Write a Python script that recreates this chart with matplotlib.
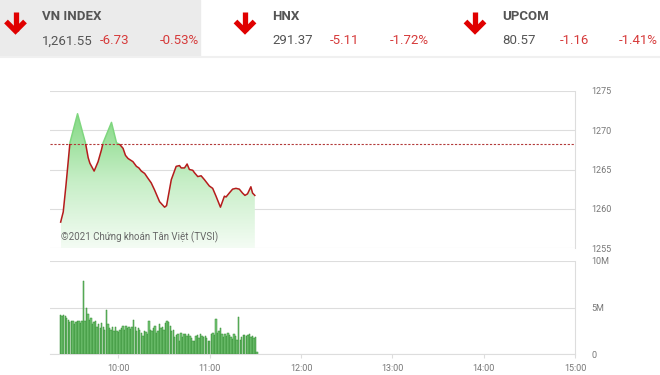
import numpy as np
import matplotlib
matplotlib.use("Agg")
import matplotlib.pyplot as plt
from matplotlib import font_manager
from matplotlib.colors import LinearSegmentedColormap
from matplotlib.patches import Polygon, Rectangle

avail = {f.name for f in font_manager.fontManager.ttflist}
FONT = next(f for f in ["Liberation Sans Narrow", "Roboto", "DejaVu Sans"] if f in avail)
plt.rcParams['font.family'] = [FONT, 'DejaVu Sans']

# header boxes
idx_names = ["VN INDEX", "HNX", "UPCOM"]
idx_values = ["1,261.55", "291.37", "80.57"]
idx_changes = ["-6.73", "-5.11", "-1.16"]
idx_pcts = ["-0.53%", "-1.72%", "-1.41%"]

# intraday index, minutes after 09:00
price_min = [22.0, 23.7, 25.5, 28.1, 33.1, 38.4, 40.1, 41.2, 44.0, 46.6, 48.8, 49.9,
             55.4, 58.7, 60.8, 63.0, 64.6, 66.3, 69.5, 71.8, 73.4, 75.0, 77.2, 79.3,
             81.5, 83.7, 87.0, 90.3, 91.6, 94.7, 97.9, 100.1, 101.2, 103.4, 105.1, 106.6,
             108.8, 109.9, 112.1, 114.3, 116.5, 119.7, 121.9, 124.1, 127.0, 129.6, 130.7,
             132.8, 135.0, 137.2, 139.4, 141.5, 143.1, 144.8, 147.0, 148.1, 149.6]
price_val = [1258.3, 1259.6, 1263.0, 1268.4, 1272.1, 1268.3, 1266.5, 1265.8, 1264.8, 1266.0,
             1267.5, 1268.4, 1271.0, 1268.4, 1268.2, 1267.7, 1266.8, 1266.4, 1266.0, 1265.4,
             1265.2, 1264.8, 1264.5, 1263.9, 1263.3, 1262.4, 1260.9, 1260.2, 1260.4, 1263.7,
             1265.4, 1265.5, 1265.2, 1265.2, 1265.7, 1265.0, 1264.9, 1264.6, 1264.1, 1264.2,
             1263.7, 1262.9, 1262.6, 1261.6, 1260.2, 1261.6, 1261.5, 1262.0, 1262.5, 1262.6,
             1262.5, 1262.0, 1261.7, 1261.9, 1262.8, 1262.0, 1261.7]
ref_price = 1268.28

# one-minute volume (millions), first bar at 09:22
vol_start = 22
volume = [4.2, 4.1, 4.2, 4.1, 3.9, 3.7, 3.4, 3.6, 3.5, 3.2, 3.4, 3.5, 3.6, 3.3, 3.6,
          7.8, 3.6, 5.0, 4.3, 3.7, 3.9, 3.2, 3.4, 3.6, 2.9, 3.2, 2.8, 3.3, 2.9, 2.6,
          4.75, 3.2, 2.8, 2.6, 2.9, 2.5, 2.9, 2.5, 2.4, 2.6, 2.8, 3.0, 2.6, 3.0, 2.8,
          2.9, 2.7, 2.9, 3.7, 2.9, 2.5, 2.75, 2.6, 2.3, 1.9, 2.5, 2.4, 2.1, 3.6, 2.6,
          2.5, 2.8, 3.0, 2.3, 2.5, 3.2, 2.8, 2.9, 2.6, 3.3, 3.6, 3.4, 3.0, 2.5, 2.6,
          1.8, 2.0, 2.2, 1.45, 2.3, 1.8, 2.1, 2.2, 1.9, 2.2, 1.9, 1.7, 1.4, 1.45, 1.9,
          2.0, 1.75, 2.1, 1.9, 1.8, 1.9, 1.7, 1.45, 1.4, 2.2, 2.3, 2.0, 3.8, 2.3, 2.5,
          2.75, 2.2, 1.8, 2.1, 1.9, 2.3, 2.0, 1.8, 1.6, 2.1, 1.9, 1.5, 4.0, 1.5, 1.8,
          2.0, 2.0, 1.9, 2.0, 2.1, 1.8, 1.9, 1.7, 1.8, 0.2]

price_ticks = [1255, 1260, 1265, 1270, 1275]
vol_ticks = [0, 5, 10]
vol_labels = ["0", "5M", "10M"]
time_ticks = [60, 120, 180, 240, 300, 360]
time_labels = ["10:00", "11:00", "12:00", "13:00", "14:00", "15:00"]

W, H = 660, 375
fig = plt.figure(figsize=(6.6, 3.75), dpi=100)

# background / header in pixel coords
bg = fig.add_axes([0, 0, 1, 1])
bg.set_xlim(0, W)
bg.set_ylim(H, 0)
bg.axis('off')
bg.add_patch(Rectangle((0, 0), 200, 56, color='#ebebeb', zorder=0))
bg.plot([0, W], [56.5, 56.5], color='#f0f0f0', lw=1.5)

red = '#d63a3a'
grey_txt = '#555555'
arrow_x = [15.5, 245, 475]
name_x = [42, 272, 502]
chg_x = [100, 330, 560]
pct_x = [160, 390, 619]
for i in range(3):
    ax0 = arrow_x[i]
    bg.plot([ax0, ax0], [12, 31], color='#e00000', lw=3.8, solid_capstyle='butt')
    bg.plot([ax0 - 9.5, ax0, ax0 + 9.5], [21.5, 31, 21.5], color='#e00000', lw=3.8,
            solid_joinstyle='miter', solid_capstyle='butt')
    bg.text(name_x[i], 17, idx_names[i], fontsize=9.5, fontweight='bold', color=grey_txt,
            va='center', ha='left')
    bg.text(name_x[i], 41, idx_values[i], fontsize=9.5, color=grey_txt, va='center', ha='left')
    bg.text(chg_x[i], 41, idx_changes[i], fontsize=9.5, color=red, va='center', ha='left')
    bg.text(pct_x[i], 41, idx_pcts[i], fontsize=9.5, color=red, va='center', ha='left')

x0, x1 = 50, 575
xlim = (15, 360)
grid_c = '#dddddd'
lab_c = '#777777'

# price panel
ax = fig.add_axes([x0 / W, 1 - 248 / H, (x1 - x0) / W, (248 - 91) / H])
t = np.array(price_min)
p = np.array(price_val)
cmap = LinearSegmentedColormap.from_list('g', ['#f4fcf4', '#c6eec6', '#84d984'])
poly = Polygon(np.column_stack([np.r_[t[0], t, t[-1]], np.r_[1255, p, 1255]]),
               closed=True, facecolor='none', edgecolor='none')
ax.add_patch(poly)
grad = np.linspace(0, 1, 256).reshape(-1, 1)
im = ax.imshow(grad, extent=[t[0], t[-1], 1255, p.max()], origin='lower', cmap=cmap,
               aspect='auto', zorder=1)
im.set_clip_path(poly)

# red below the reference close, green above it
below = Rectangle((0, 1200), 400, ref_price - 1200, transform=ax.transData)
above = Rectangle((0, ref_price), 400, 100, transform=ax.transData)
ln_r, = ax.plot(t, p, color='#b51c1c', lw=1.1, zorder=3)
ln_r.set_clip_path(below)
ln_g, = ax.plot(t, p, color='#7fd67f', lw=1.1, zorder=3)
ln_g.set_clip_path(above)

ax.axhline(ref_price, color='#b33a3a', lw=0.8, ls=(0, (2, 1.5)), zorder=2)
ax.text(22, 1255.9, "©2021 Chứng khoán Tân Việt (TVSI)", fontsize=7, color='#666666',
        family=['Roboto', 'DejaVu Sans'], zorder=4)
ax.set_xlim(*xlim)
ax.set_ylim(1255, 1275)
ax.set_yticks(price_ticks)
ax.grid(axis='y', color=grid_c, lw=0.8)
ax.set_axisbelow(True)
ax.yaxis.tick_right()
ax.tick_params(axis='y', length=0, pad=12, labelsize=6.5, labelcolor=lab_c)
ax.set_xticks([])
for s in ['top', 'left', 'bottom']:
    ax.spines[s].set_visible(False)
ax.spines['right'].set_color(grid_c)
ax.patch.set_alpha(0)
for lbl in ax.get_yticklabels():
    lbl.set_family(['Roboto', 'DejaVu Sans'])

# volume panel
av = fig.add_axes([x0 / W, 1 - 354 / H, (x1 - x0) / W, (354 - 261) / H])
vt = vol_start + np.arange(len(volume))
av.bar(vt, volume, width=0.9, color='#78c878', edgecolor='#2f8a2f', linewidth=0.35, zorder=2)
av.set_xlim(*xlim)
av.set_ylim(0, 10)
av.set_yticks(vol_ticks)
av.set_yticklabels(vol_labels)
av.grid(axis='y', color=grid_c, lw=0.8)
av.set_axisbelow(True)
av.yaxis.tick_right()
av.tick_params(axis='y', length=0, pad=12, labelsize=6.5, labelcolor=lab_c)
av.set_xticks(time_ticks)
av.set_xticklabels(time_labels)
av.tick_params(axis='x', length=3, color=grid_c, pad=4, labelsize=6.5, labelcolor=lab_c)
for s in ['top', 'left']:
    av.spines[s].set_visible(False)
av.spines['right'].set_color(grid_c)
av.spines['bottom'].set_color(grid_c)
av.patch.set_alpha(0)
for lbl in av.get_yticklabels() + av.get_xticklabels():
    lbl.set_family(['Roboto', 'DejaVu Sans'])

fig.savefig("out.png", dpi=100)
